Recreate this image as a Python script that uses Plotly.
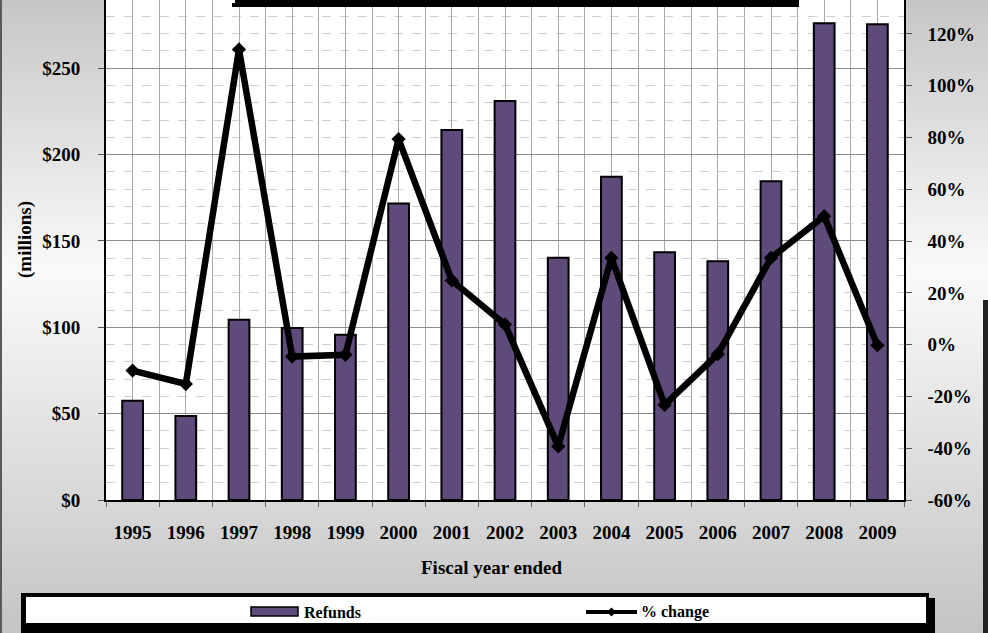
import plotly.graph_objects as go

# Fiscal years and annual refunds ($ millions)
years = [1995, 1996, 1997, 1998, 1999, 2000, 2001, 2002,
         2003, 2004, 2005, 2006, 2007, 2008, 2009]
refunds = [57.4, 48.7, 104.4, 99.6, 95.7, 171.7, 214.2, 231.0,
           140.2, 187.2, 143.5, 138.2, 184.5, 276.0, 275.5]
# Year-over-year change in refunds (percent)
pct_change = [-10.0, -15.2, 114.0, -4.6, -3.9, 79.4, 24.8, 7.8,
              -39.3, 33.5, -23.3, -3.7, 33.5, 49.6, -0.2]

left_ticks = [0, 50, 100, 150, 200, 250]
right_ticks = [-60, -40, -20, 0, 20, 40, 60, 80, 100, 120]

BAR_COLOR = "#5f4b7b"
FONT = "Liberation Serif"

W, H = 988, 633
ML, MR, MT, MB = 106, 84, 0, 133
PW = W - ML - MR
PH = H - MT - MB


def px(x):
    """Pixel x (from left) -> paper x."""
    return (x - ML) / PW


def py(y):
    """Pixel y (from top) -> paper y."""
    return (H - MB - y) / PH


def grey_at(y):
    """Background grey: darker at top and bottom, lightest near y=270."""
    if y <= 270:
        v = 198 + (250 - 198) * y / 270
    else:
        v = 250 - (250 - 196) * (y - 270) / (H - 270)
    v = int(round(v))
    return "#{0:02x}{0:02x}{0:02x}".format(v)


fig = go.Figure()
fig.add_bar(
    x=years, y=refunds, width=0.39, name="Refunds",
    marker=dict(color=BAR_COLOR, line=dict(color="black", width=2)),
)
fig.add_scatter(
    x=years, y=[p / 100 for p in pct_change], yaxis="y2", name="% change",
    mode="lines+markers",
    line=dict(color="black", width=6.5),
    marker=dict(symbol="diamond", size=11, color="black"),
)

shapes = []
# grey vertical gradient behind the chart, built from thin bands
STEP = 4
for y in range(0, H, STEP):
    shapes.append(dict(
        type="rect", xref="paper", yref="paper", layer="below",
        x0=px(0), x1=px(W), y0=py(min(H, y + STEP + 1)), y1=py(y),
        fillcolor=grey_at(y + STEP / 2), line=dict(width=0),
    ))

shapes += [
    # white plotting surface on top of the gradient
    dict(type="rect", xref="paper", yref="paper", layer="below",
         x0=0, x1=1, y0=0, y1=1, fillcolor="#ffffff", line=dict(width=0)),
    # outer frame edges
    dict(type="rect", xref="paper", yref="paper", layer="above",
         x0=px(0), x1=px(2), y0=py(H), y1=py(0), fillcolor="#5a5a5a", line=dict(width=0)),
    dict(type="rect", xref="paper", yref="paper", layer="above",
         x0=px(983), x1=px(W), y0=py(H), y1=py(300), fillcolor="#222222", line=dict(width=0)),
    # shadow of the title box peeking in at the top
    dict(type="rect", xref="paper", yref="paper", layer="above",
         x0=px(235), x1=px(799), y0=py(7), y1=py(0), fillcolor="black", line=dict(width=0)),
    dict(type="rect", xref="paper", yref="paper", layer="above",
         x0=px(232), x1=px(235), y0=py(7), y1=py(3), fillcolor="black", line=dict(width=0)),
    # legend box: border, drop shadow and white face
    dict(type="rect", xref="paper", yref="paper", layer="above",
         x0=px(21), x1=px(929), y0=py(H), y1=py(593), fillcolor="black", line=dict(width=0)),
    dict(type="rect", xref="paper", yref="paper", layer="above",
         x0=px(929), x1=px(935), y0=py(H), y1=py(598), fillcolor="black", line=dict(width=0)),
    dict(type="rect", xref="paper", yref="paper", layer="above",
         x0=px(26), x1=px(926), y0=py(623), y1=py(597), fillcolor="white", line=dict(width=0)),
    # legend key: bar swatch
    dict(type="rect", xref="paper", yref="paper", layer="above",
         x0=px(251), x1=px(298), y0=py(616), y1=py(607), fillcolor=BAR_COLOR,
         line=dict(color="black", width=1.5)),
    # legend key: line with diamond
    dict(type="line", xref="paper", yref="paper", layer="above",
         x0=px(586), x1=px(637), y0=py(612), y1=py(612),
         line=dict(color="black", width=4)),
    dict(type="path", xref="paper", yref="paper", layer="above",
         path=(f"M {px(611.5)},{py(607.5)} L {px(616)},{py(612)} "
               f"L {px(611.5)},{py(616.5)} L {px(607)},{py(612)} Z"),
         fillcolor="black", line=dict(width=0)),
]

annotations = [
    dict(text="(millions)", xref="paper", yref="paper", x=px(25), y=py(240),
         textangle=-90, showarrow=False, xanchor="center", yanchor="middle",
         font=dict(family=FONT, size=19, color="black", weight="bold")),
    dict(text="Fiscal year ended", xref="paper", yref="paper", x=px(492), y=py(567),
         showarrow=False, xanchor="center", yanchor="middle",
         font=dict(family=FONT, size=19, color="black", weight="bold")),
    dict(text="Refunds", xref="paper", yref="paper", x=px(302), y=py(612),
         showarrow=False, xanchor="left", yanchor="middle",
         font=dict(family=FONT, size=16, color="black", weight="bold")),
    dict(text="% change", xref="paper", yref="paper", x=px(639), y=py(612),
         showarrow=False, xanchor="left", yanchor="middle",
         font=dict(family=FONT, size=16, color="black", weight="bold")),
]

tick_font = dict(family=FONT, size=19, color="black", weight="bold")

fig.update_layout(
    width=W, height=H,
    margin=dict(l=ML, r=MR, t=MT, b=MB, pad=0),
    paper_bgcolor="#d6d6d6", plot_bgcolor="white",
    showlegend=False,
    shapes=shapes, annotations=annotations,
    xaxis=dict(
        range=[1994.5, 2009.5], tick0=1995, dtick=1, tickformat="d",
        ticks="", showgrid=True, gridcolor="#a8a8a8", gridwidth=1,
        showline=True, linecolor="black", linewidth=1.5, zeroline=False,
        tickfont=tick_font, ticklabelstandoff=14,
        minor=dict(tick0=1994.5, dtick=1, ticks="outside", ticklen=5,
                   tickcolor="#666666", showgrid=True, gridcolor="#a8a8a8", gridwidth=1),
    ),
    yaxis=dict(
        range=[0, 289.5], tick0=0, dtick=50, tickprefix="$",
        ticks="outside", ticklen=6, tickcolor="#555555",
        showgrid=True, gridcolor="#8c8c8c", gridwidth=1,
        showline=True, linecolor="black", linewidth=2, zeroline=False,
        tickfont=tick_font, ticklabelstandoff=14,
        minor=dict(tick0=0, dtick=10, showgrid=True, gridcolor="#cfcfcf",
                   griddash="dash", gridwidth=1),
    ),
    yaxis2=dict(
        overlaying="y", side="right", range=[-0.6, 1.331],
        tickvals=[v / 100 for v in right_ticks],
        ticktext=[f"{v}%" for v in right_ticks],
        ticks="outside", ticklen=6, tickcolor="#555555",
        showgrid=False, showline=True, linecolor="black", linewidth=1.5,
        zeroline=False, tickfont=tick_font, ticklabelstandoff=12,
    ),
)

fig.write_html("out.html")
